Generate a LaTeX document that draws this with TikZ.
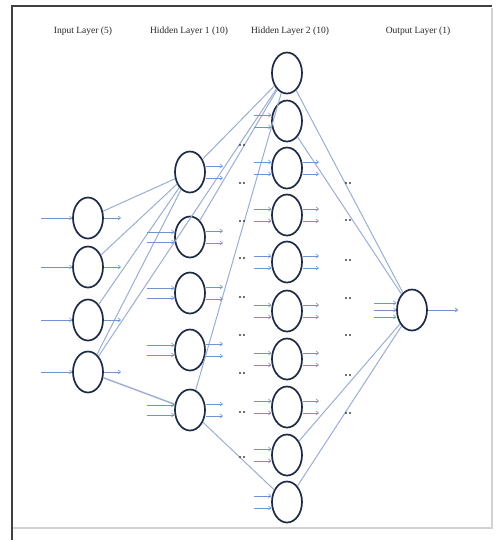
\documentclass[tikz,border=0pt]{standalone}
\usepackage{fontspec}
\setmainfont{Liberation Serif}
\usetikzlibrary{shapes.geometric,arrows.meta,calc}
\definecolor{nodec}{HTML}{1E2B45}
\definecolor{linec}{HTML}{9AAFD2}
\definecolor{arrc}{HTML}{6D94CF}
\begin{document}
\begin{tikzpicture}[x=1pt,y=-1pt,
 neuron/.style={ellipse,draw=nodec,line width=1.7pt,minimum width=30pt,minimum height=41pt,inner sep=0pt},
 conn/.style={draw=linec,line width=1pt},
 sarr/.style={draw=arrc,line width=0.6pt,-{To[length=3pt,width=4.5pt]}},
 title/.style={font=\fontsize{9.5}{11}\selectfont,text=black!85,inner sep=0pt},
 dotmark/.style={circle,fill=black!75,inner sep=0pt,minimum size=2.2pt}]
\useasboundingbox (0,0) rectangle (499,542);
\fill[white] (0,0) rectangle (499,542);
\draw[gray!35, line width=1.2pt] (492,8) -- (492,528) -- (12,528);
\draw[black!75, line width=1.3pt] (12,540) -- (12,6) -- (492,6);
% titles
\node[title] (t1) at (83,31) {Input Layer (5)};
\node[title] (t2) at (189,31) {Hidden Layer 1 (10)};
\node[title] (t3) at (290,31) {Hidden Layer 2 (10)};
\node[title] (t4) at (418,31) {Output Layer (1)};
% neurons
\foreach \i/\y in {1/218,2/267,3/320,4/372} \node[neuron] (in\i) at (88,\y) {};
\foreach \i/\y in {1/172,2/237,3/293,4/350,5/410} \node[neuron] (ha\i) at (190,\y) {};
\foreach \i/\y in {1/73,2/121,3/168,4/215,5/262,6/311,7/359,8/407,9/455,10/502} \node[neuron] (hb\i) at (287,\y) {};
\node[neuron] (out) at (412,310) {};
% connections
\foreach \i in {1,2,3,4} \draw[conn] (in\i) -- (ha1);
\draw[conn] (in4) -- (hb1);
\draw[conn,line width=1.4pt] (in4) -- (ha5);
\draw[conn] (ha1) -- (hb1);
\draw[conn] (ha2) -- (hb1);
\draw[conn] (ha5) -- (hb1);
\draw[conn] (ha5) -- (hb10);
\foreach \i in {1,2,9,10} \draw[conn] (hb\i) -- (out);
% small arrows
\foreach \i in {1,2,3,4} {
  \draw[sarr] ($(in\i.west)+(-31,0)$) -- (in\i.west);
  \draw[sarr] (in\i.east) -- ++(17,0);
}
\foreach \i in {1,...,5} {
  \draw[sarr] ($(ha\i.east)+(0,-6)$) -- ++(17,0);
  \draw[sarr] ($(ha\i.east)+(0,6)$) -- ++(17,0);
}
\foreach \i in {2,...,5} {
  \draw[sarr] ($(ha\i.west)+(-27,-5)$) -- ($(ha\i.west)+(0,-5)$);
  \draw[sarr] ($(ha\i.west)+(-27,5)$) -- ($(ha\i.west)+(0,5)$);
}
\foreach \i in {2,...,10} {
  \draw[sarr] ($(hb\i.west)+(-17,-6)$) -- ($(hb\i.west)+(0,-6)$);
  \draw[sarr] ($(hb\i.west)+(-17,6)$) -- ($(hb\i.west)+(0,6)$);
}
\foreach \i in {3,...,8} {
  \draw[sarr] ($(hb\i.east)+(0,-6)$) -- ++(16,0);
  \draw[sarr] ($(hb\i.east)+(0,6)$) -- ++(16,0);
}
\foreach \d in {-7,0,7} \draw[sarr] ($(out.west)+(-22,\d)$) -- ($(out.west)+(0,\d)$);
\coordinate (outend) at (458,310);
\draw[sarr,line width=0.8pt] (out.east) -- (outend);
% dot marks
\foreach \k/\y in {1/145,2/183,3/221,4/258,5/297,6/335,7/373,8/412,9/457} {
  \node[dotmark] (dla\k) at (240,\y) {};
  \node[dotmark] (dlb\k) at (244,\y) {};
}
\foreach \k/\y in {1/183,2/220,3/260,4/298,5/335,6/375,7/413} {
  \node[dotmark] (dra\k) at (346,\y) {};
  \node[dotmark] (drb\k) at (350,\y) {};
}
\end{tikzpicture}
\end{document}
